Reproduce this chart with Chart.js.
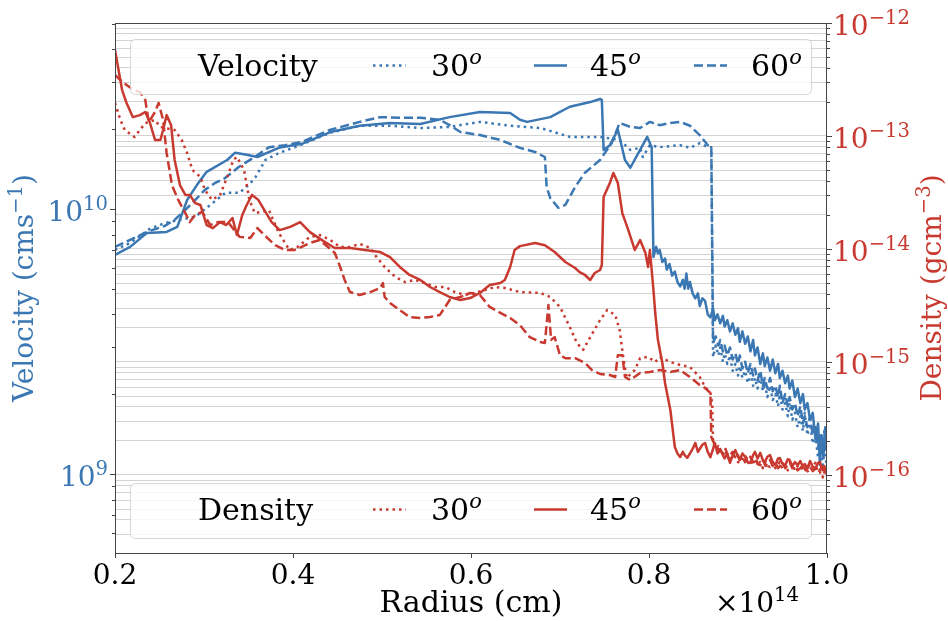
<!DOCTYPE html>
<html>
<head>
<meta charset="utf-8">
<script src="https://cdn.jsdelivr.net/npm/chart.js@4.4.1/dist/chart.umd.min.js"></script>
<style>
  html, body { margin: 0; padding: 0; background: #fff; }
  #wrap { width: 948px; height: 621px; }
</style>
</head>
<body>
<div id="wrap"><canvas id="chart" width="948" height="621"></canvas></div>
<script>
(function () {
    // radius in units of 1e14 cm
    const xTicks = [0.2, 0.4, 0.6, 0.8, 1.0];
    const velocityMajor = [1e9, 1e10];
    const densityMajor = [1e-16, 1e-15, 1e-14, 1e-13, 1e-12];
    const angleLabels = ['30', '45', '60'];
    const legendTitles = ['Velocity', 'Density'];

    // velocity (cm/s), [radius, value]
    const vel30 = [
        [0.200, 7.00e9], [0.217, 7.44e9], [0.239, 8.41e9], [0.256, 8.85e9], [0.273, 9.09e9],
        [0.290, 9.33e9], [0.307, 1.035e10], [0.324, 1.15e10], [0.340, 1.15e10], [0.352, 1.25e10],
        [0.358, 1.32e10], [0.369, 1.53e10], [0.385, 1.63e10], [0.408, 1.74e10], [0.442, 1.94e10],
        [0.475, 2.06e10], [0.509, 2.06e10], [0.543, 2.02e10], [0.576, 2.04e10], [0.610, 2.13e10],
        [0.644, 2.06e10], [0.678, 2.02e10], [0.711, 1.87e10], [0.745, 1.87e10], [0.767, 1.82e10],
        [0.779, 1.67e10], [0.790, 1.70e10], [0.793, 1.57e10], [0.801, 1.74e10], [0.812, 1.71e10],
        [0.835, 1.74e10], [0.846, 1.70e10], [0.857, 1.77e10], [0.866, 1.71e10], [0.870, 1.71e10],
        [0.872, 2.76e9], [0.875, 3.05e9], [0.878, 2.80e9], [0.880, 3.00e9], [0.883, 2.65e9],
        [0.885, 2.85e9], [0.888, 2.60e9], [0.891, 2.80e9], [0.894, 2.45e9], [0.897, 2.60e9],
        [0.900, 2.35e9], [0.902, 2.55e9], [0.905, 2.30e9], [0.908, 2.45e9], [0.911, 2.20e9],
        [0.914, 2.40e9], [0.917, 2.15e9], [0.919, 2.30e9], [0.922, 2.10e9], [0.925, 2.35e9],
        [0.928, 2.05e9], [0.930, 2.20e9], [0.933, 1.95e9], [0.936, 2.15e9], [0.939, 1.90e9],
        [0.942, 2.00e9], [0.945, 1.80e9], [0.947, 2.00e9], [0.950, 1.75e9], [0.953, 1.85e9],
        [0.956, 1.65e9], [0.958, 1.85e9], [0.961, 1.60e9], [0.964, 1.70e9], [0.967, 1.50e9],
        [0.970, 1.65e9], [0.973, 1.45e9], [0.975, 1.70e9], [0.978, 1.40e9], [0.981, 1.55e9],
        [0.984, 1.30e9], [0.987, 1.40e9], [0.990, 1.15e9], [0.992, 1.30e9], [0.995, 1.05e9],
        [0.997, 1.30e9], [1.000, 1.03e9]
    ];
    const vel45 = [
        [0.200, 6.70e9], [0.217, 7.19e9], [0.236, 8.12e9], [0.258, 8.19e9], [0.270, 8.55e9],
        [0.281, 1.08e10], [0.292, 1.23e10], [0.303, 1.38e10], [0.326, 1.53e10], [0.335, 1.63e10],
        [0.348, 1.60e10], [0.360, 1.57e10], [0.384, 1.70e10], [0.410, 1.76e10], [0.442, 1.95e10],
        [0.475, 2.06e10], [0.509, 2.11e10], [0.543, 2.09e10], [0.576, 2.22e10], [0.610, 2.32e10],
        [0.644, 2.30e10], [0.655, 2.17e10], [0.663, 2.13e10], [0.689, 2.22e10], [0.711, 2.43e10],
        [0.734, 2.53e10], [0.745, 2.60e10], [0.747, 2.58e10], [0.749, 1.67e10], [0.756, 1.74e10],
        [0.765, 1.99e10], [0.773, 1.53e10], [0.779, 1.43e10], [0.790, 1.67e10], [0.798, 1.87e10],
        [0.803, 1.71e10], [0.805, 6.59e9], [0.808, 7.20e9], [0.810, 6.80e9], [0.812, 7.00e9],
        [0.815, 6.30e9], [0.818, 6.50e9], [0.820, 5.90e9], [0.823, 6.20e9], [0.826, 5.60e9],
        [0.829, 5.80e9], [0.832, 5.30e9], [0.835, 5.10e9], [0.838, 5.40e9], [0.840, 5.00e9],
        [0.842, 5.70e9], [0.844, 5.00e9], [0.846, 5.30e9], [0.849, 4.80e9], [0.852, 4.60e9],
        [0.855, 4.80e9], [0.857, 4.30e9], [0.860, 4.60e9], [0.863, 4.50e9], [0.866, 4.00e9],
        [0.869, 3.90e9], [0.872, 4.20e9], [0.874, 3.80e9], [0.877, 4.00e9], [0.880, 3.70e9],
        [0.883, 3.95e9], [0.885, 3.60e9], [0.888, 3.80e9], [0.891, 3.45e9], [0.894, 3.70e9],
        [0.897, 3.35e9], [0.900, 3.55e9], [0.902, 3.15e9], [0.905, 3.45e9], [0.908, 3.10e9],
        [0.911, 3.30e9], [0.914, 2.90e9], [0.917, 3.20e9], [0.919, 2.80e9], [0.922, 3.00e9],
        [0.925, 2.60e9], [0.928, 2.85e9], [0.930, 2.55e9], [0.933, 2.75e9], [0.936, 2.45e9],
        [0.939, 2.70e9], [0.942, 2.40e9], [0.945, 2.60e9], [0.947, 2.30e9], [0.950, 2.45e9],
        [0.953, 2.20e9], [0.956, 2.35e9], [0.958, 2.10e9], [0.961, 2.25e9], [0.964, 1.95e9],
        [0.967, 2.10e9], [0.970, 1.85e9], [0.973, 2.00e9], [0.975, 1.75e9], [0.978, 1.85e9],
        [0.981, 1.60e9], [0.984, 1.70e9], [0.987, 1.35e9], [0.990, 1.55e9], [0.992, 1.08e9],
        [0.994, 1.40e9], [0.996, 1.15e9], [0.998, 1.50e9], [1.000, 1.30e9]
    ];
    const vel60 = [
        [0.200, 7.19e9], [0.217, 7.64e9], [0.239, 8.26e9], [0.256, 8.63e9], [0.267, 9.09e9],
        [0.279, 9.91e9], [0.290, 1.08e10], [0.301, 1.18e10], [0.312, 1.25e10], [0.324, 1.31e10],
        [0.339, 1.44e10], [0.357, 1.57e10], [0.373, 1.71e10], [0.391, 1.74e10], [0.410, 1.79e10],
        [0.442, 1.99e10], [0.475, 2.13e10], [0.498, 2.22e10], [0.520, 2.21e10], [0.543, 2.21e10],
        [0.565, 2.17e10], [0.576, 2.07e10], [0.588, 1.95e10], [0.610, 1.90e10], [0.633, 1.82e10],
        [0.655, 1.70e10], [0.672, 1.64e10], [0.683, 1.57e10], [0.685, 1.21e10], [0.689, 1.10e10],
        [0.698, 1.01e10], [0.706, 1.035e10], [0.717, 1.21e10], [0.728, 1.37e10], [0.745, 1.53e10],
        [0.758, 1.77e10], [0.767, 2.11e10], [0.779, 2.04e10], [0.790, 2.02e10], [0.801, 2.13e10],
        [0.812, 2.07e10], [0.824, 2.11e10], [0.835, 2.13e10], [0.846, 2.06e10], [0.857, 1.90e10],
        [0.866, 1.74e10], [0.870, 1.71e10], [0.872, 3.12e9], [0.875, 3.30e9], [0.878, 3.05e9],
        [0.880, 3.20e9], [0.883, 2.90e9], [0.885, 3.05e9], [0.888, 2.80e9], [0.891, 3.00e9],
        [0.894, 2.70e9], [0.897, 2.85e9], [0.900, 2.60e9], [0.902, 2.80e9], [0.905, 2.50e9],
        [0.908, 2.65e9], [0.911, 2.40e9], [0.914, 2.60e9], [0.917, 2.35e9], [0.919, 2.50e9],
        [0.922, 2.25e9], [0.925, 2.45e9], [0.928, 2.15e9], [0.930, 2.30e9], [0.933, 2.10e9],
        [0.936, 2.30e9], [0.939, 2.05e9], [0.942, 2.15e9], [0.945, 1.95e9], [0.947, 2.15e9],
        [0.950, 1.85e9], [0.953, 2.00e9], [0.956, 1.80e9], [0.958, 1.95e9], [0.961, 1.75e9],
        [0.964, 1.85e9], [0.967, 1.65e9], [0.970, 1.80e9], [0.973, 1.55e9], [0.975, 1.65e9],
        [0.978, 1.50e9], [0.981, 1.65e9], [0.984, 1.40e9], [0.987, 1.50e9], [0.990, 1.25e9],
        [0.992, 1.40e9], [0.995, 1.20e9], [0.997, 1.45e9], [1.000, 1.18e9]
    ];

    // density (g/cm^3), [radius, value]
    const den30 = [
        [0.200, 1.96e-13], [0.206, 1.39e-13], [0.211, 1.13e-13], [0.222, 9.80e-14], [0.228, 1.13e-13],
        [0.234, 1.30e-13], [0.245, 1.39e-13], [0.251, 1.20e-13], [0.267, 1.13e-13], [0.275, 9.22e-14],
        [0.281, 7.08e-14], [0.287, 5.00e-14], [0.296, 4.34e-14], [0.301, 3.33e-14], [0.309, 2.72e-14],
        [0.318, 3.01e-14], [0.327, 4.52e-14], [0.333, 6.14e-14], [0.337, 6.52e-14], [0.345, 5.00e-14],
        [0.351, 2.72e-14], [0.357, 2.08e-14], [0.365, 2.13e-14], [0.373, 2.21e-14], [0.384, 1.39e-14],
        [0.396, 9.80e-15], [0.405, 1.04e-14], [0.419, 1.28e-14], [0.430, 1.33e-14], [0.442, 1.20e-14],
        [0.453, 1.04e-14], [0.464, 1.04e-14], [0.475, 1.11e-14], [0.487, 1.02e-14], [0.492, 8.85e-15],
        [0.503, 6.93e-15], [0.515, 5.65e-15], [0.526, 5.10e-15], [0.537, 5.32e-15], [0.548, 5.00e-15],
        [0.560, 4.61e-15], [0.571, 4.61e-15], [0.582, 4.16e-15], [0.593, 3.92e-15], [0.604, 4.08e-15],
        [0.616, 4.34e-15], [0.627, 4.61e-15], [0.638, 4.52e-15], [0.655, 4.16e-15], [0.678, 4.08e-15],
        [0.689, 3.76e-15], [0.700, 3.07e-15], [0.711, 2.04e-15], [0.719, 1.47e-15], [0.726, 1.28e-15],
        [0.734, 1.66e-15], [0.745, 2.35e-15], [0.753, 2.88e-15], [0.762, 2.61e-15], [0.767, 1.92e-15],
        [0.771, 1.11e-15], [0.775, 7.22e-16], [0.784, 8.49e-16], [0.790, 1.08e-15], [0.799, 1.11e-15],
        [0.807, 1.00e-15], [0.812, 1.11e-15], [0.824, 1.00e-15], [0.835, 9.40e-16], [0.846, 9.03e-16],
        [0.857, 7.37e-16], [0.863, 6.01e-16], [0.869, 5.32e-16], [0.871, 4.34e-16], [0.872, 1.92e-16],
        [0.875, 1.70e-16], [0.878, 1.80e-16], [0.880, 1.60e-16], [0.883, 1.50e-16], [0.886, 1.65e-16],
        [0.889, 1.40e-16], [0.891, 1.50e-16], [0.894, 1.35e-16], [0.897, 1.45e-16], [0.900, 1.30e-16],
        [0.902, 1.28e-16], [0.905, 1.40e-16], [0.908, 1.50e-16], [0.911, 1.30e-16], [0.914, 1.22e-16],
        [0.917, 1.38e-16], [0.920, 1.25e-16], [0.925, 1.30e-16], [0.928, 1.15e-16], [0.931, 1.30e-16],
        [0.934, 1.20e-16], [0.936, 1.18e-16], [0.939, 1.30e-16], [0.942, 1.15e-16], [0.945, 1.25e-16],
        [0.947, 1.30e-16], [0.950, 1.12e-16], [0.953, 1.22e-16], [0.956, 1.10e-16], [0.958, 1.15e-16],
        [0.961, 1.25e-16], [0.964, 1.10e-16], [0.967, 1.20e-16], [0.970, 1.22e-16], [0.973, 1.08e-16],
        [0.976, 1.18e-16], [0.979, 1.05e-16], [0.981, 1.11e-16], [0.984, 1.20e-16], [0.987, 1.28e-16],
        [0.990, 1.05e-16], [0.992, 1.06e-16], [0.995, 9.50e-17], [0.997, 1.10e-16], [1.000, 9.80e-17]
    ];
    const den45 = [
        [0.200, 5.77e-13], [0.203, 4.25e-13], [0.208, 2.55e-13], [0.213, 1.96e-13], [0.220, 1.47e-13],
        [0.228, 1.53e-13], [0.234, 1.63e-13], [0.239, 1.33e-13], [0.245, 9.22e-14], [0.251, 9.22e-14],
        [0.254, 1.13e-13], [0.258, 1.53e-13], [0.263, 1.25e-13], [0.267, 6.14e-14], [0.273, 3.68e-14],
        [0.279, 3.01e-14], [0.284, 3.01e-14], [0.290, 2.55e-14], [0.296, 2.45e-14], [0.303, 1.63e-14],
        [0.310, 1.53e-14], [0.318, 1.73e-14], [0.325, 1.63e-14], [0.332, 1.88e-14], [0.337, 1.33e-14],
        [0.343, 2.00e-14], [0.348, 2.45e-14], [0.354, 3.01e-14], [0.361, 2.72e-14], [0.369, 2.13e-14],
        [0.376, 1.73e-14], [0.385, 1.47e-14], [0.397, 1.57e-14], [0.408, 1.73e-14], [0.419, 1.41e-14],
        [0.436, 1.15e-14], [0.447, 1.02e-14], [0.464, 1.02e-14], [0.481, 9.80e-15], [0.498, 9.40e-15],
        [0.509, 8.49e-15], [0.520, 6.93e-15], [0.531, 5.89e-15], [0.543, 5.32e-15], [0.554, 4.61e-15],
        [0.565, 4.16e-15], [0.576, 3.76e-15], [0.588, 3.54e-15], [0.599, 3.68e-15], [0.610, 4.08e-15],
        [0.621, 4.80e-15], [0.633, 5.00e-15], [0.638, 5.32e-15], [0.644, 6.93e-15], [0.649, 9.80e-15],
        [0.655, 1.06e-14], [0.672, 1.13e-14], [0.683, 1.08e-14], [0.694, 9.40e-15], [0.706, 7.67e-15],
        [0.717, 6.79e-15], [0.722, 6.25e-15], [0.728, 5.89e-15], [0.734, 5.32e-15], [0.739, 6.13e-15],
        [0.745, 6.52e-15], [0.747, 7.21e-15], [0.749, 2.88e-14], [0.756, 3.84e-14], [0.760, 4.71e-14],
        [0.765, 3.84e-14], [0.770, 2.08e-14], [0.776, 1.53e-14], [0.784, 9.80e-15], [0.790, 1.20e-14],
        [0.796, 9.22e-15], [0.799, 6.93e-15], [0.801, 9.80e-15], [0.805, 4.34e-15], [0.807, 2.72e-15],
        [0.810, 1.57e-15], [0.815, 9.80e-16], [0.818, 6.52e-16], [0.824, 3.76e-16], [0.829, 1.77e-16],
        [0.832, 1.55e-16], [0.835, 1.44e-16], [0.838, 1.60e-16], [0.840, 1.50e-16], [0.843, 1.42e-16],
        [0.846, 1.55e-16], [0.849, 1.70e-16], [0.852, 1.92e-16], [0.855, 1.60e-16], [0.857, 1.70e-16],
        [0.860, 1.85e-16], [0.863, 1.92e-16], [0.866, 1.60e-16], [0.869, 1.44e-16], [0.872, 1.70e-16],
        [0.874, 1.92e-16], [0.877, 1.55e-16], [0.880, 1.70e-16], [0.883, 1.50e-16], [0.885, 1.40e-16],
        [0.888, 1.55e-16], [0.891, 1.28e-16], [0.894, 1.50e-16], [0.897, 1.66e-16], [0.900, 1.45e-16],
        [0.902, 1.36e-16], [0.905, 1.55e-16], [0.908, 1.45e-16], [0.911, 1.30e-16], [0.914, 1.28e-16],
        [0.917, 1.50e-16], [0.919, 1.60e-16], [0.922, 1.40e-16], [0.925, 1.57e-16], [0.928, 1.35e-16],
        [0.930, 1.30e-16], [0.933, 1.45e-16], [0.936, 1.50e-16], [0.939, 1.30e-16], [0.942, 1.22e-16],
        [0.945, 1.40e-16], [0.947, 1.41e-16], [0.950, 1.25e-16], [0.953, 1.22e-16], [0.956, 1.38e-16],
        [0.958, 1.36e-16], [0.961, 1.20e-16], [0.964, 1.30e-16], [0.967, 1.22e-16], [0.970, 1.33e-16],
        [0.973, 1.18e-16], [0.975, 1.25e-16], [0.978, 1.15e-16], [0.981, 1.33e-16], [0.984, 1.18e-16],
        [0.987, 1.15e-16], [0.990, 1.28e-16], [0.992, 1.30e-16], [0.995, 1.10e-16], [0.997, 1.20e-16],
        [1.000, 1.00e-16]
    ];
    const den60 = [
        [0.200, 3.47e-13], [0.206, 3.13e-13], [0.213, 2.83e-13], [0.221, 2.55e-13], [0.228, 2.45e-13],
        [0.234, 2.08e-13], [0.238, 1.33e-13], [0.245, 1.63e-13], [0.249, 1.96e-13], [0.254, 1.39e-13],
        [0.258, 7.08e-14], [0.264, 3.68e-14], [0.271, 2.72e-14], [0.279, 2.08e-14], [0.284, 1.73e-14],
        [0.290, 2.00e-14], [0.298, 2.13e-14], [0.307, 1.63e-14], [0.316, 1.73e-14], [0.327, 1.73e-14],
        [0.340, 1.28e-14], [0.352, 1.25e-14], [0.360, 1.53e-14], [0.369, 1.30e-14], [0.380, 1.08e-14],
        [0.391, 9.80e-15], [0.402, 9.80e-15], [0.419, 1.13e-14], [0.430, 1.20e-14], [0.447, 9.22e-15],
        [0.453, 6.93e-15], [0.458, 5.32e-15], [0.464, 4.16e-15], [0.475, 3.92e-15], [0.487, 4.16e-15],
        [0.498, 4.52e-15], [0.501, 5.00e-15], [0.503, 3.76e-15], [0.509, 3.33e-15], [0.520, 2.88e-15],
        [0.531, 2.50e-15], [0.543, 2.45e-15], [0.554, 2.50e-15], [0.565, 2.61e-15], [0.571, 3.07e-15],
        [0.576, 3.54e-15], [0.588, 3.76e-15], [0.599, 4.08e-15], [0.610, 3.92e-15], [0.621, 3.07e-15],
        [0.633, 2.72e-15], [0.644, 2.45e-15], [0.655, 2.12e-15], [0.666, 1.66e-15], [0.678, 1.50e-15],
        [0.683, 1.47e-15], [0.687, 3.19e-15], [0.690, 1.57e-15], [0.694, 1.66e-15], [0.700, 1.15e-15],
        [0.706, 1.08e-15], [0.717, 1.08e-15], [0.728, 9.80e-16], [0.736, 8.49e-16], [0.745, 7.83e-16],
        [0.756, 7.67e-16], [0.762, 7.37e-16], [0.765, 1.15e-15], [0.770, 1.15e-15], [0.773, 7.37e-16],
        [0.779, 6.93e-16], [0.790, 8.00e-16], [0.801, 8.16e-16], [0.812, 8.49e-16], [0.824, 8.16e-16],
        [0.835, 8.49e-16], [0.846, 7.37e-16], [0.857, 6.25e-16], [0.863, 5.89e-16], [0.869, 5.32e-16],
        [0.870, 2.17e-16], [0.874, 1.84e-16], [0.877, 1.70e-16], [0.880, 1.66e-16], [0.883, 1.55e-16],
        [0.886, 1.70e-16], [0.889, 1.45e-16], [0.891, 1.50e-16], [0.894, 1.60e-16], [0.897, 1.40e-16],
        [0.900, 1.50e-16], [0.902, 1.36e-16], [0.905, 1.45e-16], [0.908, 1.30e-16], [0.911, 1.50e-16],
        [0.914, 1.44e-16], [0.917, 1.30e-16], [0.920, 1.40e-16], [0.922, 1.25e-16], [0.925, 1.22e-16],
        [0.928, 1.35e-16], [0.931, 1.20e-16], [0.934, 1.30e-16], [0.936, 1.36e-16], [0.939, 1.20e-16],
        [0.942, 1.28e-16], [0.945, 1.15e-16], [0.947, 1.20e-16], [0.950, 1.30e-16], [0.953, 1.15e-16],
        [0.956, 1.22e-16], [0.958, 1.30e-16], [0.961, 1.15e-16], [0.964, 1.20e-16], [0.967, 1.10e-16],
        [0.970, 1.15e-16], [0.973, 1.22e-16], [0.976, 1.10e-16], [0.979, 1.18e-16], [0.981, 1.22e-16],
        [0.984, 1.08e-16], [0.987, 1.15e-16], [0.990, 1.05e-16], [0.992, 1.11e-16], [0.995, 1.20e-16],
        [0.997, 1.05e-16], [1.000, 1.15e-16]
    ];

    const blue = '#3a77b3';
    const red = '#c8392f';
    const SERIF = '"DejaVu Serif", serif';
    const dotted = [2.5, 4];
    const dashed = [9, 4];
    const styles = [dotted, [], dashed];

    const toPoints = (arr) => arr.map((p) => ({ x: p[0], y: p[1] }));

    function lineSet(label, arr, color, dash, axis) {
        return {
            label,
            data: toPoints(arr),
            yAxisID: axis,
            borderColor: color,
            borderWidth: 2.5,
            borderDash: dash,
            borderJoinStyle: 'round',
            pointRadius: 0,
            tension: 0,
            fill: false
        };
    }

    function decadeTicks(majors, lo, hi) {
        const out = [];
        majors.concat([majors[0] / 10]).forEach((m) => {
            for (let k = 1; k <= 9; k++) {
                const v = m * k;
                if (v >= lo * 0.999 && v <= hi * 1.001) out.push({ value: v, major: k === 1 });
            }
        });
        return out.sort((a, b) => a.value - b.value);
    }

    const fontOf = (size, italic) => (italic ? 'italic ' : '') + size + 'px ' + SERIF;

    // text runs with optional superscripts
    function runWidth(ctx, parts, size) {
        let w = 0;
        parts.forEach((p) => {
            ctx.font = fontOf(p.sup ? size * 0.7 : size, p.italic);
            w += ctx.measureText(p.t).width;
        });
        return w;
    }
    function drawRun(ctx, parts, x, y, size) {
        let cx = x;
        parts.forEach((p) => {
            ctx.font = fontOf(p.sup ? size * 0.7 : size, p.italic);
            ctx.fillText(p.t, cx, p.sup ? y - size * 0.4 : y);
            cx += ctx.measureText(p.t).width;
        });
    }
    const powParts = (v) => [{ t: '10' }, { t: String(Math.round(Math.log10(v))).replace('-', '\u2212'), sup: true }];

    function roundBox(ctx, x, y, w, h, r) {
        ctx.beginPath();
        ctx.moveTo(x + r, y);
        ctx.arcTo(x + w, y, x + w, y + h, r);
        ctx.arcTo(x + w, y + h, x, y + h, r);
        ctx.arcTo(x, y + h, x, y, r);
        ctx.arcTo(x, y, x + w, y, r);
        ctx.closePath();
    }

    function drawLegend(ctx, top, title, color) {
        const h = 55, cy = top + h / 2;
        roundBox(ctx, 130.5, top + 0.5, 681, h, 5);
        ctx.fillStyle = 'rgba(255,255,255,0.8)';
        ctx.fill();
        ctx.strokeStyle = 'rgba(204,204,204,0.8)';
        ctx.lineWidth = 1;
        ctx.stroke();
        ctx.fillStyle = '#000';
        ctx.textAlign = 'left';
        ctx.textBaseline = 'alphabetic';
        drawRun(ctx, [{ t: title }], 198, cy + 9, 30);
        const handleX = [373, 534, 694];
        const textX = [431, 590, 751];
        angleLabels.forEach((a, i) => {
            ctx.save();
            ctx.strokeStyle = color;
            ctx.lineWidth = 2.5;
            ctx.setLineDash(styles[i]);
            ctx.beginPath();
            ctx.moveTo(handleX[i], cy - 1);
            ctx.lineTo(handleX[i] + 33, cy - 1);
            ctx.stroke();
            ctx.restore();
            ctx.fillStyle = '#000';
            drawRun(ctx, [{ t: a }, { t: 'o', sup: true, italic: true }], textX[i], cy + 9, 30);
        });
    }

    const decorations = {
        id: 'decorations',
        afterDraw(chart) {
            const ctx = chart.ctx;
            const area = chart.chartArea;
            const xs = chart.scales.x, yv = chart.scales.y, yd = chart.scales.y2;
            ctx.save();

            // frame
            ctx.strokeStyle = '#444';
            ctx.lineWidth = 1;
            ctx.strokeRect(Math.round(area.left) + 0.5, Math.round(area.top) + 0.5,
                Math.round(area.right - area.left) - 1, Math.round(area.bottom - area.top));

            // tick marks
            ctx.beginPath();
            yv.ticks.forEach((t) => {
                const y = Math.round(yv.getPixelForValue(t.value)) + 0.5;
                ctx.moveTo(area.left, y);
                ctx.lineTo(area.left - (t.major ? 5 : 3), y);
            });
            yd.ticks.forEach((t) => {
                const y = Math.round(yd.getPixelForValue(t.value)) + 0.5;
                ctx.moveTo(area.right, y);
                ctx.lineTo(area.right + (t.major ? 5 : 3), y);
            });
            xTicks.forEach((v) => {
                const x = Math.round(xs.getPixelForValue(v)) + 0.5;
                ctx.moveTo(x, area.bottom);
                ctx.lineTo(x, area.bottom + 5);
            });
            ctx.stroke();

            // x tick labels
            ctx.fillStyle = '#000';
            ctx.textAlign = 'center';
            ctx.textBaseline = 'alphabetic';
            ctx.font = fontOf(28);
            xTicks.forEach((v) => ctx.fillText(v.toFixed(1), xs.getPixelForValue(v), 584));

            ctx.textAlign = 'left';
            // x title and offset
            const xt = [{ t: 'Radius (cm)' }];
            drawRun(ctx, xt, (area.left + area.right) / 2 - runWidth(ctx, xt, 30) / 2, 612, 30);
            drawRun(ctx, [{ t: '\u00d710' }, { t: '14', sup: true }], 715, 612, 28);

            // y tick labels
            ctx.fillStyle = blue;
            velocityMajor.forEach((v) => {
                const p = powParts(v);
                drawRun(ctx, p, area.left - 7 - runWidth(ctx, p, 28), yv.getPixelForValue(v) + 12, 28);
            });
            ctx.fillStyle = red;
            densityMajor.forEach((v) => {
                drawRun(ctx, powParts(v), area.right + 6, yd.getPixelForValue(v) + 12, 28);
            });

            // y titles
            const midY = (area.top + area.bottom) / 2;
            const vt = [{ t: 'Velocity (cms' }, { t: '\u22121', sup: true }, { t: ')' }];
            ctx.save();
            ctx.translate(33, midY);
            ctx.rotate(-Math.PI / 2);
            ctx.fillStyle = blue;
            drawRun(ctx, vt, -runWidth(ctx, vt, 28) / 2, 0, 28);
            ctx.restore();
            const dt = [{ t: 'Density (gcm' }, { t: '\u22123', sup: true }, { t: ')' }];
            ctx.save();
            ctx.translate(941, midY);
            ctx.rotate(-Math.PI / 2);
            ctx.fillStyle = red;
            drawRun(ctx, dt, -runWidth(ctx, dt, 28) / 2, 0, 28);
            ctx.restore();

            // legends
            drawLegend(ctx, 39, legendTitles[0], blue);
            drawLegend(ctx, 483, legendTitles[1], red);

            ctx.restore();
        }
    };

    new Chart(document.getElementById('chart'), {
        type: 'line',
        data: {
            datasets: [
                lineSet('Density 30', den30, red, dotted, 'y2'),
                lineSet('Density 45', den45, red, [], 'y2'),
                lineSet('Density 60', den60, red, dashed, 'y2'),
                lineSet('Velocity 30', vel30, blue, dotted, 'y'),
                lineSet('Velocity 45', vel45, blue, [], 'y'),
                lineSet('Velocity 60', vel60, blue, dashed, 'y')
            ]
        },
        options: {
            responsive: false,
            animation: false,
            layout: { padding: { top: 23, left: 0, right: 0, bottom: 0 } },
            plugins: {
                legend: { display: false },
                tooltip: { enabled: false }
            },
            scales: {
                x: {
                    type: 'linear',
                    min: 0.2,
                    max: 1.0,
                    afterFit: (s) => { s.height = 68; },
                    afterBuildTicks: (s) => { s.ticks = xTicks.map((v) => ({ value: v })); },
                    ticks: { display: false },
                    grid: { display: false },
                    border: { display: false }
                },
                y: {
                    type: 'logarithmic',
                    position: 'left',
                    bounds: 'data',
                    min: 5.03e8,
                    max: 5.03e10,
                    afterFit: (s) => { s.width = 115; },
                    afterBuildTicks: (s) => { s.ticks = decadeTicks(velocityMajor, 5.03e8, 5.03e10); },
                    ticks: { display: false },
                    grid: { display: false },
                    border: { display: false }
                },
                y2: {
                    type: 'logarithmic',
                    position: 'right',
                    bounds: 'data',
                    min: 2.04e-17,
                    max: 1e-12,
                    afterFit: (s) => { s.width = 121; },
                    afterBuildTicks: (s) => { s.ticks = decadeTicks(densityMajor, 2.04e-17, 1e-12); },
                    ticks: { display: false },
                    grid: { color: '#d3d3d3', lineWidth: 1, drawTicks: false },
                    border: { display: false }
                }
            }
        },
        plugins: [decorations]
    });
})();
</script>
</body>
</html>
